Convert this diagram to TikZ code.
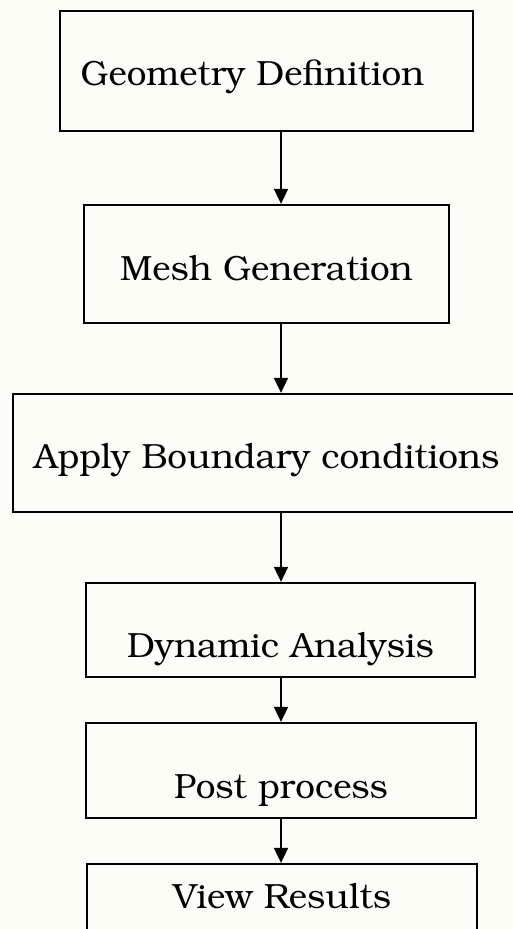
\documentclass[tikz,border=0pt]{standalone}
\usepackage[T1]{fontenc}
\usepackage{bookman}
\usetikzlibrary{arrows.meta}
\definecolor{paper}{RGB}{253,253,247}

\begin{document}
\begin{tikzpicture}[
			x=1pt, y=-1pt,
			box/.style={
					draw,
					line width=2.3pt,
					inner sep=0pt,
					font=\fontsize{35}{42}\selectfont
				},
			>={Triangle[length=15pt,width=14pt]}
		]

		\fill[paper] (0,0) rectangle (513,929);
		\useasboundingbox (0,0) rectangle (513,929);

		\node (geom) [box, minimum width=413pt,
			text height=74pt, text depth=46pt] at (266.5,71)
		{Geometry Definition\hspace{28pt}\null};

		\node (mesh) [box, minimum width=365pt,
			text height=75pt, text depth=43pt] at (266.5,264)
		{Mesh Generation};

		\node (bound) [box, minimum width=507pt,
			text height=74pt, text depth=44pt] at (266.5,453)
		{Apply Boundary conditions};

		\node (dyn) [box, minimum width=389pt,
			text height=74pt, text depth=20pt] at (280.5,630)
		{Dynamic Analysis};

		\node (post) [box, minimum width=390pt,
			text height=75pt, text depth=20pt] at (281,770.5)
		{Post process};

		\node (view) [box, minimum width=390pt,
			text height=44pt, text depth=52pt] at (282,912)
		{View Results};

		% arrows run slightly right of the box centres
		\coordinate (axis) at (281,0);

		\draw[->,line width=1.8pt] (geom.south -| axis) -- (mesh.north -| axis);
		\draw[->,line width=1.8pt] (mesh.south -| axis) -- (bound.north -| axis);
		\draw[->,line width=1.8pt] (bound.south -| axis) -- (dyn.north -| axis);
		\draw[->,line width=1.8pt] (dyn.south -| axis) -- (post.north -| axis);
		\draw[->,line width=1.8pt] (post.south -| axis) -- (view.north -| axis);

	\end{tikzpicture}
\end{document}
